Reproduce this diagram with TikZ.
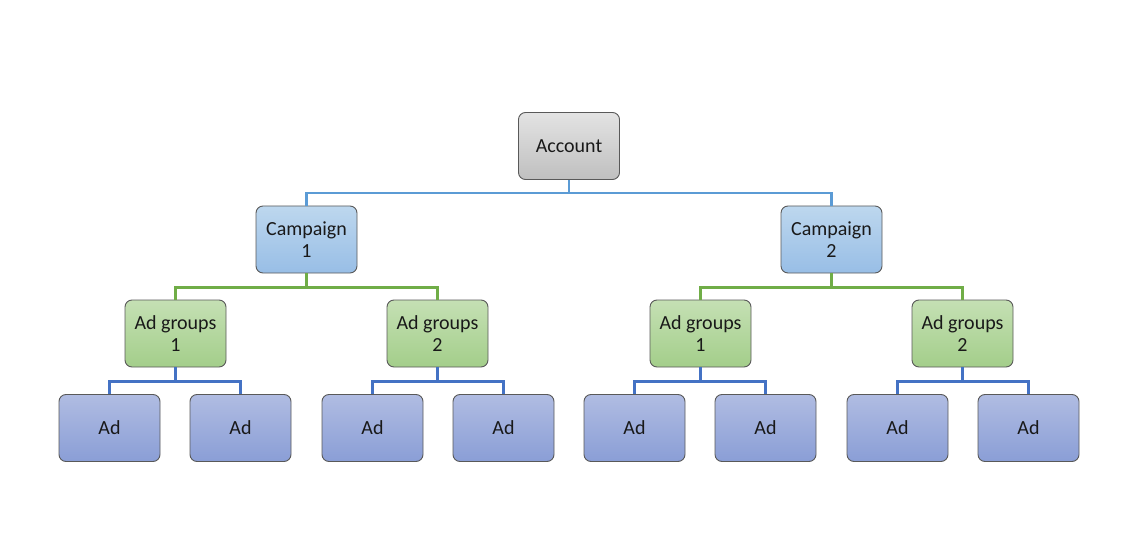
\documentclass[tikz,border=0pt]{standalone}
\usepackage{fontspec}
\setmainfont{Carlito}
\begin{document}
\begin{tikzpicture}[x=1pt,y=-1pt,
  box/.style={draw=black!65, line width=0.9pt, rounded corners=7pt, minimum width=101pt, minimum height=67pt, align=center, inner sep=2pt, font=\fontsize{20}{22}\selectfont, text=black!90},
  graybox/.style={box, top color=gray!22, bottom color=gray!50},
  campbox/.style={box, top color={rgb,255:red,189;green,215;blue,238}, bottom color={rgb,255:red,152;green,190;blue,230}},
  grpbox/.style={box, top color={rgb,255:red,197;green,224;blue,180}, bottom color={rgb,255:red,163;green,206;blue,138}},
  adbox/.style={box, top color={rgb,255:red,176;green,188;blue,226}, bottom color={rgb,255:red,138;green,158;blue,214}},
  lineA/.style={draw={rgb,255:red,91;green,155;blue,213}, line width=2.2pt},
  lineB/.style={draw={rgb,255:red,112;green,173;blue,71}, line width=2.2pt},
  lineC/.style={draw={rgb,255:red,68;green,114;blue,196}, line width=2.2pt}]
\useasboundingbox (0,0) rectangle (1146,556);
\node[graybox] (acc) at (569,146) {Account};
\node[campbox] (c1) at (306.5,239.5) {Campaign\\1};
\node[campbox] (c2) at (831.5,239.5) {Campaign\\2};
\node[grpbox] (g1) at (175.5,333.5) {Ad groups\\1};
\node[grpbox] (g2) at (437.5,333.5) {Ad groups\\2};
\node[grpbox] (g3) at (700.5,333.5) {Ad groups\\1};
\node[grpbox] (g4) at (962.5,333.5) {Ad groups\\2};
\foreach \n/\x in {a1/109.5,a2/240.5,a3/372.5,a4/503.5,a5/634.5,a6/765.5,a7/897.5,a8/1028.5}
  \node[adbox] (\n) at (\x,428) {Ad};
\foreach \c in {c1,c2} \draw[lineA] (acc.south) -- ++(0,13) -| (\c.north);
\foreach \p/\c in {c1/g1,c1/g2,c2/g3,c2/g4} \draw[lineB] (\p.south) -- ++(0,14) -| (\c.north);
\foreach \p/\c in {g1/a1,g1/a2,g2/a3,g2/a4,g3/a5,g3/a6,g4/a7,g4/a8} \draw[lineC] (\p.south) -- ++(0,14) -| (\c.north);
\end{tikzpicture}
\end{document}
